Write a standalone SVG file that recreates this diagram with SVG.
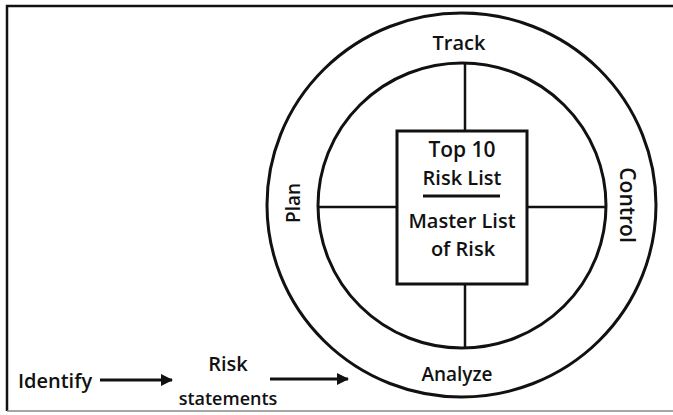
<svg xmlns="http://www.w3.org/2000/svg" width="673" height="415" viewBox="0 0 673 415">
<style>
.t{font-family:"Open Sans","Liberation Sans",sans-serif;fill:#111;text-anchor:middle;font-weight:600}
.ln{stroke:#111;fill:none}
</style>
<defs>
<marker id="ah" markerWidth="12" markerHeight="12" refX="11" refY="6" orient="auto" markerUnits="userSpaceOnUse">
<path d="M0,0 L12,6 L0,12 Z" fill="#111"/>
</marker>
</defs>
<rect width="673" height="415" fill="#fff"/>
<g id="frame">
<path class="ln" d="M7,411 L7,6 L673,6" stroke-width="2.5"/>
<path d="M7,411 L673,411" stroke="#888" stroke-width="1.5"/>
</g>
<g id="cycle">
<ellipse class="ln" cx="461.5" cy="205" rx="194.5" ry="192" stroke-width="3"/>
<ellipse class="ln" cx="462" cy="205.5" rx="144" ry="142.5" stroke-width="3"/>
</g>
<g id="connectors">
<line class="ln" x1="465" y1="63" x2="465" y2="131" stroke-width="2.5"/>
<line class="ln" x1="465" y1="284" x2="465" y2="348" stroke-width="2.5"/>
<line class="ln" x1="318" y1="207" x2="397" y2="207" stroke-width="2.5"/>
<line class="ln" x1="527" y1="207" x2="606" y2="207" stroke-width="2.5"/>
<line class="ln" x1="100" y1="380" x2="172" y2="380" stroke-width="3" marker-end="url(#ah)"/>
<line class="ln" x1="270" y1="379" x2="348" y2="379" stroke-width="3" marker-end="url(#ah)"/>
</g>
<g id="risk-box">
<rect class="ln" x="397" y="131" width="130" height="153" stroke-width="3"/>
<text class="t" x="462" y="157" font-size="21">Top 10</text>
<text class="t" x="462" y="185" font-size="20">Risk List</text>
<line class="ln" x1="423" y1="196" x2="500" y2="196" stroke-width="3"/>
<text class="t" x="462" y="228" font-size="20">Master List</text>
<text class="t" x="463" y="256" font-size="20">of Risk</text>
</g>
<g id="track"><text class="t" x="459" y="50" font-size="20">Track</text></g>
<g id="plan"><text class="t" font-size="19" transform="translate(300,203) rotate(-90)">Plan</text></g>
<g id="control"><text class="t" font-size="21" transform="translate(620,205) rotate(90)">Control</text></g>
<g id="analyze"><text class="t" x="457" y="381" font-size="19">Analyze</text></g>
<g id="identify"><text class="t" x="55" y="388" font-size="20">Identify</text></g>
<g id="risk-statements">
<text class="t" x="228" y="371" font-size="20">Risk</text>
<text class="t" x="228" y="405" font-size="18">statements</text>
</g>
</svg>
